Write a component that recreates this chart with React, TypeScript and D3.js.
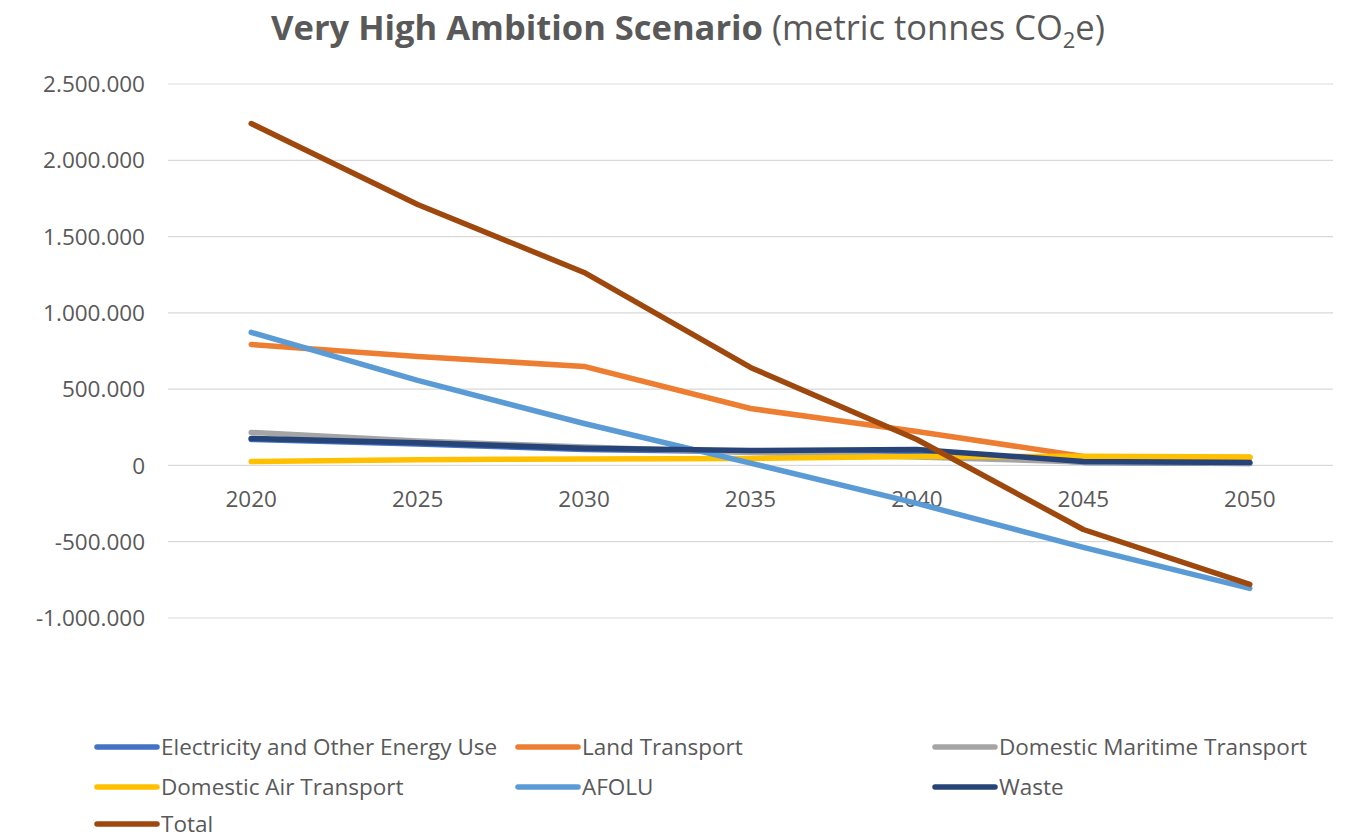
import React from "react";
import * as d3 from "d3";

const years = ["2020", "2025", "2030", "2035", "2040", "2045", "2050"];
const electricity = [170000, 140000, 105000, 90000, 95000, 20000, 12000];
const landTransport = [793000, 714000, 649000, 373000, 223000, 59000, 52000];
const maritime = [216000, 160000, 120000, 85000, 55000, 22000, 15000];
const airTransport = [26000, 38000, 42000, 46000, 58000, 60000, 55000];
const afolu = [872000, 557000, 275000, 15000, -249000, -537000, -806000];
const waste = [177000, 148000, 113000, 98000, 105000, 26000, 20000];
const total = [2241000, 1710000, 1265000, 642000, 170000, -420000, -780000];
const yTicks = [-1000000, -500000, 0, 500000, 1000000, 1500000, 2000000, 2500000];

const seriesNames = [
  "Electricity and Other Energy Use",
  "Land Transport",
  "Domestic Maritime Transport",
  "Domestic Air Transport",
  "AFOLU",
  "Waste",
  "Total",
];
const seriesValues = [electricity, landTransport, maritime, airTransport, afolu, waste, total];
const seriesColors = ["#4472C4", "#ED7D31", "#A5A5A5", "#FFC000", "#5B9BD5", "#264478", "#9E480E"];

const W = 1349;
const H = 840;
const FONT = "'Open Sans', sans-serif";
const TXT = "#595959";

const locale = d3.formatLocale({ decimal: ",", thousands: ".", grouping: [3], currency: ["", ""], minus: "-" });
const fmt = locale.format(",d");

export default function App() {
  const x = d3.scaleBand<string>().domain(years).range([168, 1333]);
  const y = d3.scaleLinear().domain([-1000000, 2500000]).range([618, 84]);
  const cx = (yr: string) => (x(yr) as number) + x.bandwidth() / 2;
  const line = d3
    .line<number>()
    .x((_, i) => cx(years[i]))
    .y((v) => y(v));

  const legendPos = [
    [97, 747],
    [518, 747],
    [935, 747],
    [97, 787],
    [518, 787],
    [935, 787],
    [97, 824],
  ];

  return (
    <svg width={W} height={H} style={{ position: "absolute", left: 0, top: 0, background: "#fff" }}>
      <rect width={W} height={H} fill="#fff" />
      <text x={688} y={40} textAnchor="middle" fontFamily={FONT} fontSize={34.5} fill={TXT}>
        <tspan fontWeight="bold">Very High Ambition Scenario</tspan>
        <tspan> (metric tonnes CO</tspan>
        <tspan fontSize={22} dy={8}>2</tspan>
        <tspan dy={-8}>e)</tspan>
      </text>
      {yTicks.map((t) => (
        <g key={t}>
          <line x1={168} x2={1333} y1={y(t)} y2={y(t)} stroke="#D9D9D9" strokeWidth={1.2} />
          <text x={145} y={y(t)} dy="0.36em" textAnchor="end" fontFamily={FONT} fontSize={22.5} fill={TXT}>
            {fmt(t)}
          </text>
        </g>
      ))}
      {years.map((yr) => (
        <text key={yr} x={cx(yr)} y={y(0) + 42} textAnchor="middle" fontFamily={FONT} fontSize={22.5} fill={TXT}>
          {yr}
        </text>
      ))}
      {seriesValues.map((vals, i) => (
        <path
          key={seriesNames[i]}
          d={line(vals) as string}
          fill="none"
          stroke={seriesColors[i]}
          strokeWidth={5.5}
          strokeLinejoin="round"
          strokeLinecap="round"
        />
      ))}
      {seriesNames.map((name, i) => (
        <g key={name}>
          <line
            x1={legendPos[i][0]}
            x2={legendPos[i][0] + 60}
            y1={legendPos[i][1]}
            y2={legendPos[i][1]}
            stroke={seriesColors[i]}
            strokeWidth={5.5}
            strokeLinecap="round"
          />
          <text x={legendPos[i][0] + 64} y={legendPos[i][1]} dy="0.36em" fontFamily={FONT} fontSize={22.5} fill={TXT}>
            {name}
          </text>
        </g>
      ))}
    </svg>
  );
}
